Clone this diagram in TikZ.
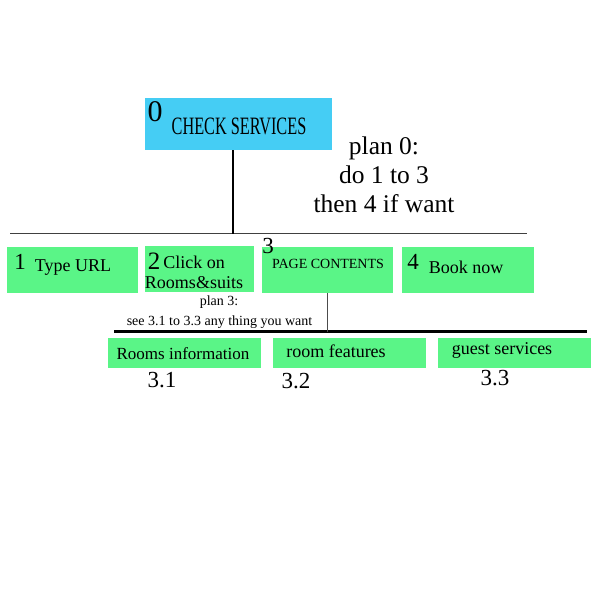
\documentclass[tikz,border=0pt]{standalone}
\usepackage{fontspec}
\setmainfont{Liberation Serif}
\definecolor{cyanbox}{HTML}{45CDF4}
\definecolor{greenbox}{HTML}{5AF587}
\newcommand{\fsz}[1]{\fontsize{#1}{#1}\selectfont}
\tikzset{
  boxnode/.style={fill=greenbox, draw=none, inner sep=0pt, outer sep=0pt, anchor=north west},
  topbox/.style={boxnode, fill=cyanbox},
  lbl/.style={inner sep=0pt, text=black},
  thinline/.style={draw=black!75, line width=1.2pt},
  stemline/.style={draw=black, line width=2pt},
  thickline/.style={draw=black, line width=2.6pt},
  substem/.style={draw=black!70, line width=1pt}
}
\begin{document}
\begin{tikzpicture}[x=1pt,y=-1pt]
\useasboundingbox (0,0) rectangle (600,600);
% boxes
\node[topbox, minimum width=187pt, minimum height=52pt] (b0) at (145,98) {};
\node[boxnode, minimum width=131pt, minimum height=46pt] (b1) at (7,247) {};
\node[boxnode, minimum width=109pt, minimum height=46pt] (b2) at (145,246) {};
\node[boxnode, minimum width=131pt, minimum height=46pt] (b3) at (262,247) {};
\node[boxnode, minimum width=132pt, minimum height=46pt] (b4) at (402,247) {};
\node[boxnode, minimum width=153pt, minimum height=30pt] (c1) at (108,337.5) {};
\node[boxnode, minimum width=153pt, minimum height=30pt] (c2) at (273,337.5) {};
\node[boxnode, minimum width=153pt, minimum height=30pt] (c3) at (438,337.5) {};
% connectors
\coordinate (h1l) at (10,233.5);
\coordinate (h1r) at (527,233.5);
\coordinate (v0) at (233,233.5);
\coordinate (h2l) at (114,331.5);
\coordinate (h2r) at (587,331.5);
\draw[thinline] (h1l) -- (h1r);
\draw[stemline] (v0 |- b0.south) -- (v0);
\draw[thickline] (h2l) -- (h2r);
\draw[substem] (b3.south) -- (b3.south |- h2l);
% texts
\node[lbl, font=\fsz{30}] (t0) at (155,112) {0};
\node[lbl, font=\fsz{25}] (t0b) at (239,126) {\scalebox{0.65}[1]{CHECK SERVICES}};
\node[lbl, font=\fontsize{25.5}{29}\selectfont, align=center] (p0) at (384,175) {plan 0:\\do 1 to 3\\then 4 if want};
\node[lbl, font=\fsz{23}] (t1) at (20,262) {1};
\node[lbl, font=\fsz{18}] (t1b) at (73,268) {Type URL};
\node[lbl, font=\fsz{25}] (t2) at (154,261) {2};
\node[lbl, font=\fsz{18}] (t2b) at (194,262) {Click on};
\node[lbl, font=\fsz{18}] (t2c) at (194,283) {Rooms\&suits};
\node[lbl, font=\fsz{23}] (t3) at (268,246) {3};
\node[lbl, font=\fsz{14}] (t3b) at (328,264) {PAGE CONTENTS};
\node[lbl, font=\fsz{23}] (t4) at (413,262) {4};
\node[lbl, font=\fsz{18}] (t4b) at (466,267) {Book now};
\node[lbl, font=\fsz{14}] (p3a) at (219,302) {plan 3:};
\node[lbl, font=\fsz{14}] (p3b) at (219.5,322) {see 3.1 to 3.3 any thing you want};
\node[lbl, font=\fsz{17}] (s1) at (183,354) {Rooms information};
\node[lbl, font=\fsz{18}] (s2) at (336,351) {room features};
\node[lbl, font=\fsz{18}] (s3) at (502,350) {guest services};
\node[lbl, font=\fsz{23}] (n1) at (162,380) {3.1};
\node[lbl, font=\fsz{23}] (n2) at (296,381) {3.2};
\node[lbl, font=\fsz{23}] (n3) at (495,378) {3.3};
\end{tikzpicture}
\end{document}
